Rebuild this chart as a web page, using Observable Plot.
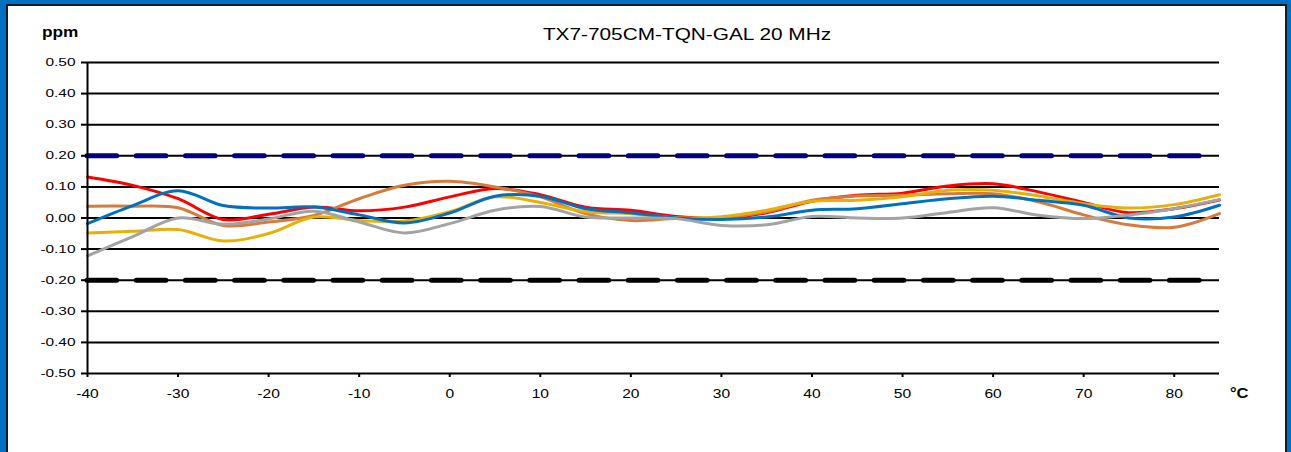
<!DOCTYPE html>
<html><head><meta charset="utf-8">
<script src="https://cdn.jsdelivr.net/npm/d3@7"></script>
<script src="https://cdn.jsdelivr.net/npm/@observablehq/plot@0.6"></script>
<style>
html,body{margin:0;padding:0;background:#fff;}
#wrap{position:relative;width:1291px;height:452px;overflow:hidden;font-family:'Liberation Sans',Arial,sans-serif;color:#000;}
#frame{position:absolute;left:0;top:0;width:1291px;height:452px;box-sizing:border-box;border-left:6px solid #0070c0;border-top:4px solid #0070c0;border-right:4px solid #0070c0;}
#inner{position:absolute;left:6px;top:4px;width:1281px;height:448px;box-sizing:border-box;border-left:2px solid #1a1a1a;border-top:2px solid #1a1a1a;border-right:2px solid #1a1a1a;}
#chart{position:absolute;left:0;top:0;}
.lbl{position:absolute;white-space:nowrap;line-height:1;}
#title{left:0;width:1374px;text-align:center;top:27px;font-size:16px;transform:scaleX(1.3);transform-origin:687px 0;}
#ppm{left:42px;top:24px;font-size:15px;font-weight:bold;transform:scaleX(1.15);transform-origin:0 0;}
#degc{left:1230px;top:385px;font-size:15px;font-weight:bold;transform:scaleX(1.1);transform-origin:0 0;}
</style></head>
<body><div id="wrap"><div id="frame"></div><div id="inner"></div><div id="chart"></div>
<div class="lbl" id="title">TX7-705CM-TQN-GAL 20 MHz</div>
<div class="lbl" id="ppm">ppm</div>
<div class="lbl" id="degc">°C</div>
</div>
<script>
const temps = [-40,-35,-30,-25,-20,-15,-10,-5,0,5,10,15,20,25,30,35,40,45,50,55,60,65,70,75,80,85];
const red    = [0.132,0.105,0.062,-0.005,0.012,0.035,0.023,0.035,0.068,0.095,0.075,0.035,0.025,0.005,0.0,0.017,0.054,0.073,0.08,0.103,0.11,0.084,0.05,0.017,0.03,0.058];
const orange = [0.038,0.038,0.033,-0.024,-0.013,0.008,0.062,0.105,0.118,0.1,0.068,0.014,-0.008,-0.002,0.0,0.02,0.057,0.071,0.073,0.078,0.078,0.052,0.01,-0.022,-0.03,0.014];
const yellow = [-0.048,-0.043,-0.037,-0.074,-0.05,0.003,-0.008,-0.01,0.02,0.068,0.05,0.02,0.014,0.001,0.004,0.025,0.054,0.057,0.068,0.089,0.089,0.071,0.046,0.032,0.043,0.075];
const blue   = [-0.018,0.04,0.088,0.04,0.032,0.035,0.01,-0.016,0.016,0.07,0.07,0.03,0.017,0.0,-0.005,0.003,0.025,0.03,0.046,0.062,0.07,0.057,0.041,0.0,0.003,0.041];
const gray   = [-0.122,-0.06,0.0,-0.02,-0.003,0.022,-0.013,-0.048,-0.018,0.025,0.037,0.003,0.0,-0.002,-0.024,-0.022,0.005,0.0,0.0,0.018,0.033,0.009,-0.002,0.01,0.03,0.059];
const yTicks = [-0.5,-0.4,-0.3,-0.2,-0.1,0,0.1,0.2,0.3,0.4,0.5];
const xTicks = [-40,-30,-20,-10,0,10,20,30,40,50,60,70,80];
const upperLimit = 0.2, lowerLimit = -0.2;

const series = [
  {values: red, color: "#ff0000"},
  {values: orange, color: "#d67b3b"},
  {values: yellow, color: "#e6b00a"},
  {values: blue, color: "#0070c0"},
  {values: gray, color: "#a3a3a3"}
];

const chart = Plot.plot({
  width: 1291, height: 452,
  marginLeft: 87, marginRight: 72, marginTop: 62, marginBottom: 79,
  style: {fontFamily: "'Liberation Sans', Arial, sans-serif", background: "transparent", color: "#000", overflow: "visible"},
  x: {domain: [-40, 85]},
  y: {domain: [-0.5, 0.5]},
  marks: [
    Plot.ruleY(yTicks, {stroke: "#000", strokeWidth: 2}),
    Plot.ruleY([upperLimit], {x1: -40, x2: 83.2, stroke: "#000080", strokeWidth: 5, strokeDasharray: "29.7,19.5", strokeLinecap: "round"}),
    Plot.ruleY([lowerLimit], {x1: -40, x2: 83.2, stroke: "#000", strokeWidth: 5, strokeDasharray: "29.7,19.5", strokeLinecap: "round"}),
    ...series.map(s => Plot.line(temps, {x: d => d, y: (d, i) => s.values[i], stroke: s.color, strokeWidth: 3, curve: "catmull-rom"})),
    Plot.ruleX([-40], {stroke: "#000", strokeWidth: 2}),
    Plot.axisY(yTicks, {tickSize: 6, tickPadding: 6, tickFormat: d => d.toFixed(2), fontSize: 11, strokeWidth: 2, label: null}),
    Plot.axisX(xTicks, {tickSize: 4, tickPadding: 11, tickFormat: d => String(d), fontSize: 13, strokeWidth: 2, label: null})
  ]
});
document.getElementById("chart").appendChild(chart);

chart.querySelectorAll("text").forEach(t => {
  const s = t.textContent.includes(".") ? 1.4 : 1.2;
  let tr = t.getAttribute("transform") || "";
  const x = t.getAttribute("x");
  if (x !== null && x !== "") { tr += ` translate(${x},0)`; t.removeAttribute("x"); }
  t.setAttribute("transform", `${tr} scale(${s},1)`);
});
</script>
</body></html>
